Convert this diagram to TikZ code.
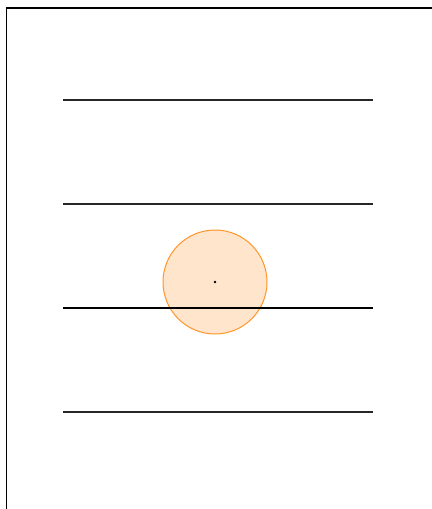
\documentclass[tikz,border=0pt]{standalone}

\begin{document}
\begin{tikzpicture}[x=0.025cm, y=-0.025cm]
  \useasboundingbox (0,0) rectangle (432,509);

  % frame, left and top
  \draw[black, line width=1pt] (6.5,509) -- (6.5,8) -- (432,8);

  % ball
  \node[circle, minimum size=104*0.025cm, inner sep=0pt, fill=orange!20, draw=orange!85, line width=0.7pt] (ball) at (215,282) {};
  \fill[black] (ball.center) circle (1.3);

  % horizontal lines
  \foreach \y in {100, 204, 412} {
    \draw[black!85, line width=0.9pt] (63,\y) -- (373,\y);
  }
  \draw[black, line width=1.3pt] (63,308) -- (373,308);
\end{tikzpicture}
\end{document}
